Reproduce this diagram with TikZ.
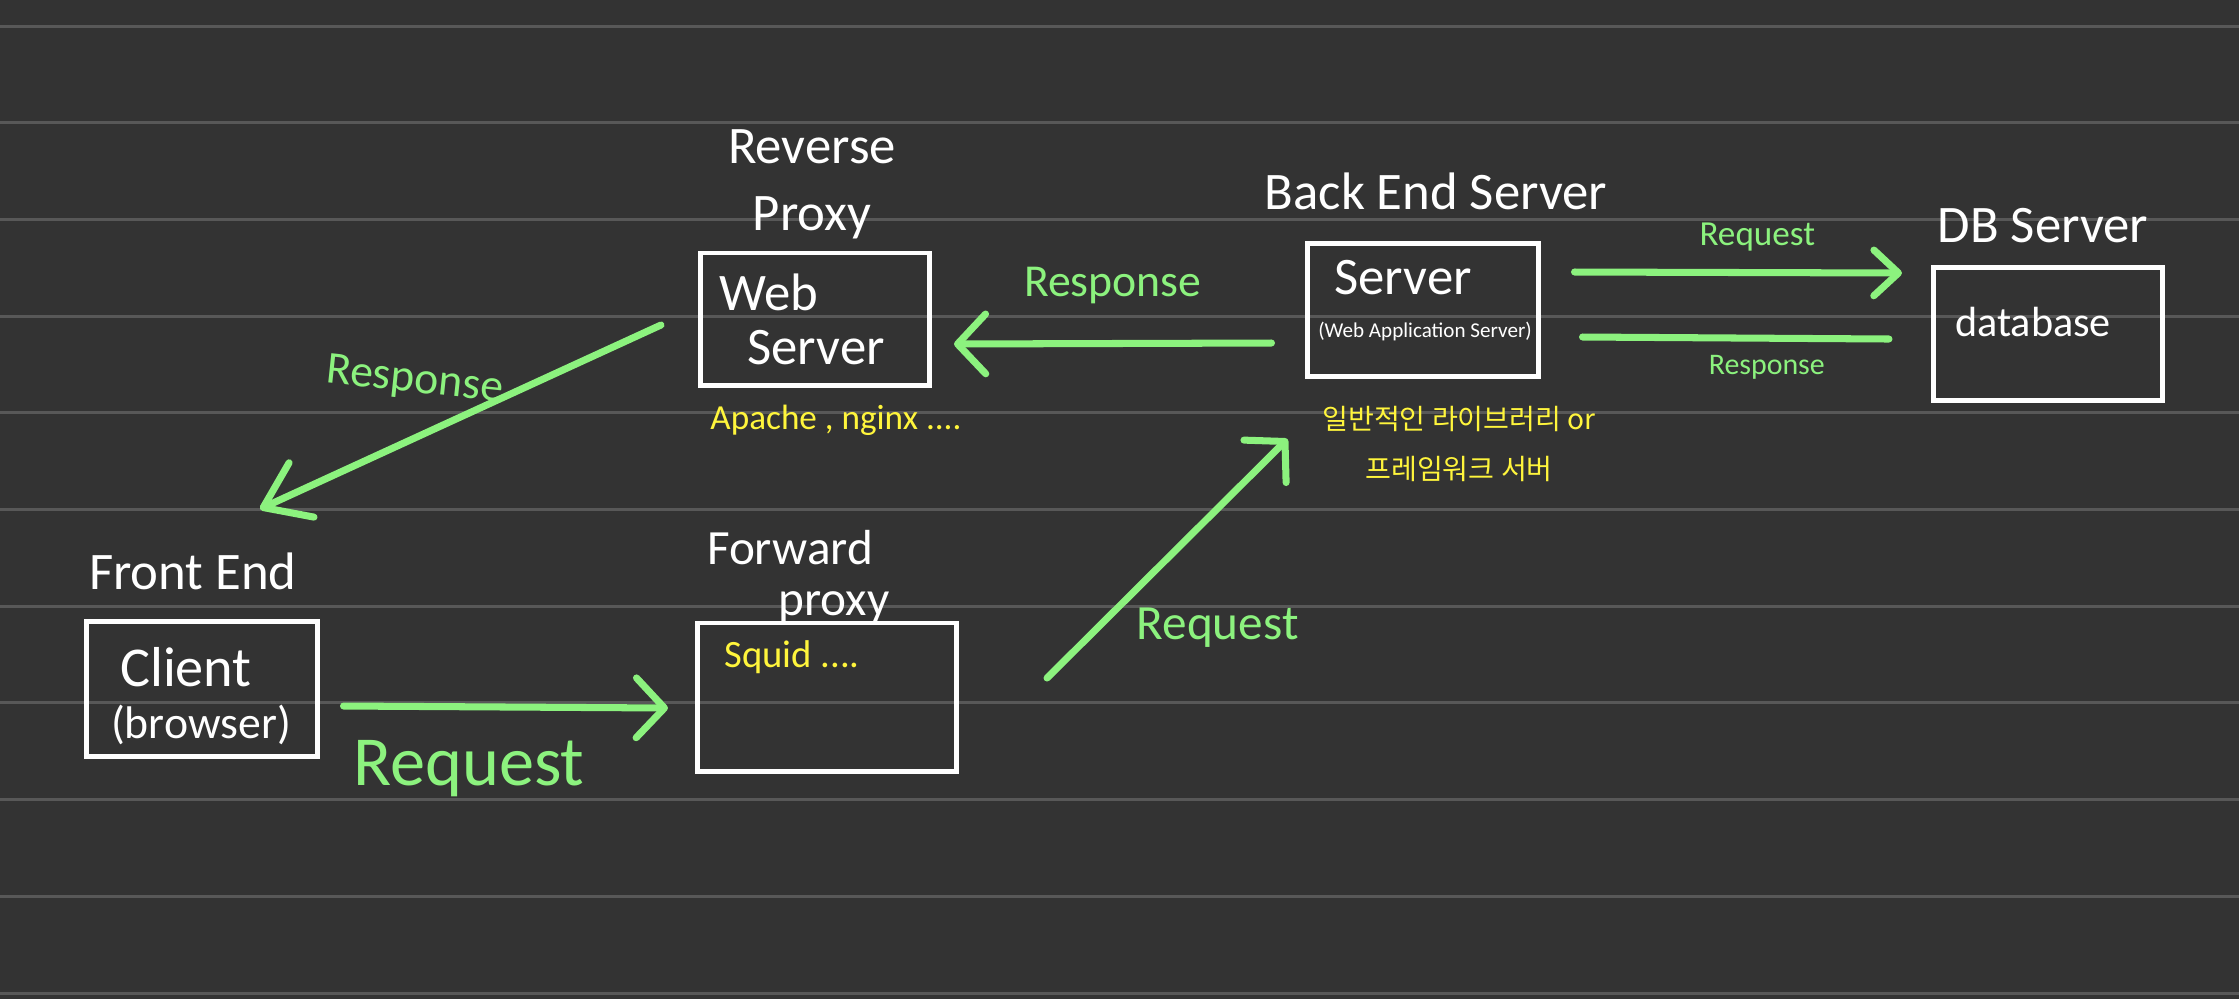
\documentclass[tikz,border=0pt]{standalone}
\usepackage{fontspec}
\setmainfont{Carlito}
\newfontfamily\kofont{Noto Sans CJK KR}
\usepackage{tikz}
\usetikzlibrary{arrows.meta,positioning}
\definecolor{boardBg}{RGB}{51,51,51}
\definecolor{ruleGray}{RGB}{88,88,88}
\definecolor{handGreen}{RGB}{140,242,126}
\definecolor{handYellow}{RGB}{255,245,60}
\tikzset{
  box/.style={rectangle, draw=white, line width=1.4pt, inner sep=0pt},
  ruleline/.style={draw=ruleGray, line width=0.85pt},
  arr/.style={draw=handGreen, line width=2pt, line cap=round, line join=round,
              -{Straight Barb[#1, round]}},
  arr/.default={length=8pt,width=17pt},
  plainline/.style={draw=handGreen, line width=2pt, line cap=round},
  title/.style={text=white, inner sep=0pt, font=\fontsize{15}{19}\selectfont},
  boxtext/.style={text=white, inner sep=0pt, font=\fontsize{15}{18}\selectfont},
  note/.style={text=handYellow, inner sep=0pt, font=\fontsize{10}{12}\selectfont},
  glabel/.style={text=handGreen, inner sep=0pt, font=\fontsize{#1}{#1}\selectfont},
  glabel/.default=13,
}

\begin{document}
\begin{tikzpicture}[x=0.01cm, y=-0.01cm, node distance=0.2cm]
  \useasboundingbox (0,0) rectangle (2239,999);
  \fill[boardBg] (0,0) rectangle (2239,999);
  \foreach \k in {0,...,10}
    \draw[ruleline] (0,{26+96.7*\k}) -- (2239,{26+96.7*\k});

  % boxes
  \node[box, minimum width=2.29cm, minimum height=1.32cm] (web) at (815,319) {};
  \node[box, minimum width=2.30cm, minimum height=1.33cm] (srv) at (1423,310) {};
  \node[box, minimum width=2.29cm, minimum height=1.33cm] (db) at (2048,334) {};
  \node[box, minimum width=2.30cm, minimum height=1.35cm] (client) at (202,689) {};
  \node[box, minimum width=2.59cm, minimum height=1.48cm] (fwd) at (827,697) {};

  % text in the boxes
  \node[boxtext] (webtxt) at (769,292) {Web};
  \node[boxtext] (websrvtxt) at (816,348) {Server};
  \node[boxtext] (srvtxt) at (1403,278) {Server};
  \node[boxtext, font=\fontsize{6}{7}\selectfont] (srvsub) at (1425,331) {(Web Application Server)};
  \node[boxtext, font=\fontsize{12}{14}\selectfont] (dbtxt) at (2033,322) {database};
  \node[boxtext, font=\fontsize{16}{19}\selectfont] (clienttxt) at (186,667) {Client};
  \node[boxtext, font=\fontsize{13}{15}\selectfont] (browsertxt) at (201,725) {(browser)};
  \node[note, font=\fontsize{11}{13}\selectfont] (squidtxt) at (792,657) {Squid ....};

  % titles
  \node[title, align=center, above=0.11cm of web, xshift=-0.03cm] (revlbl) {Reverse\\Proxy};
  \node[title, above=0.3cm of srv, xshift=0.13cm] (belbl) {Back End Server};
  \node[title, above=0.21cm of db, xshift=-0.05cm] (dblbl) {DB Server};
  \node[title, above=0.28cm of client, xshift=-0.09cm] (felbl) {Front End};
  \node[title, font=\fontsize{14}{17}\selectfont, anchor=base] (fwdlbl) at (790,564) {Forward};
  \node[title, font=\fontsize{14}{17}\selectfont, anchor=base] (proxylbl) at (834,615) {proxy};

  % notes
  \node[note, below=0.17cm of web, xshift=0.21cm] (webnote) {Apache , nginx ....};
  \node[note, font=\kofont\fontsize{8}{14.5}\selectfont, align=center,
        below=0.26cm of srv, xshift=0.36cm] (srvnote) {일반적인 라이브러리 or\\프레임워크 서버};

  % flows
  \draw[arr={length=12pt,width=17pt}] ([shift={(-37,6)}]web.west)
        -- node[glabel, pos=0.62, above=0.36cm, rotate=-6] (resp1) {Response}
        ([shift={(58,-110)}]client.north);
  \draw[arr] ([shift={(24,17)}]client.east)
        -- node[glabel=20, below=0.3cm, xshift=-0.37cm] (req1) {Request}
        ([shift={(-27,11)}]fwd.west);
  \draw[arr] ([shift={(88,-19)}]fwd.east)
        -- node[glabel=14, pos=0.25, anchor=west, xshift=0.26cm, yshift=-0.09cm] (req2) {Request}
        ([shift={(-18,60)}]srv.south west);
  \draw[arr] ([shift={(-34,33)}]srv.west)
        -- node[glabel, above=0.36cm] (resp2) {Response}
        ([shift={(22,25)}]web.east);
  \draw[arr={length=7pt,width=13pt}] ([shift={(34,-38)}]srv.east)
        -- node[glabel=10, above=0.18cm, xshift=0.19cm] (req3) {Request}
        ([shift={(-29,-61)}]db.west);
  \draw[plainline] ([shift={(-42,5)}]db.west)
        -- node[glabel=8.5, below=0.14cm, xshift=0.31cm] (resp3) {Response}
        ([shift={(42,27)}]srv.east);
\end{tikzpicture}
\end{document}
